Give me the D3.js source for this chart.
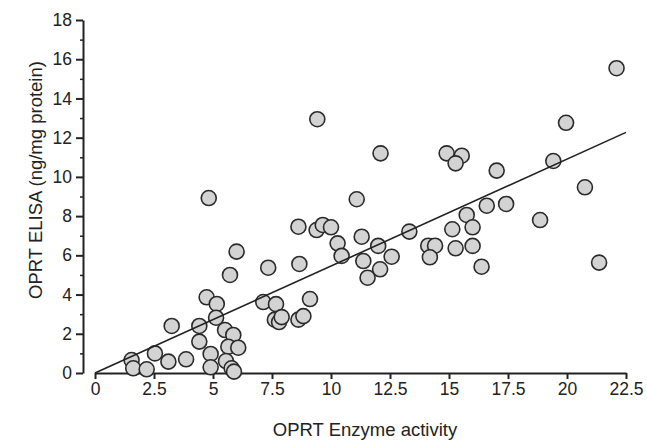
<!DOCTYPE html>
<html>
<head>
<meta charset="utf-8">
<script src="https://cdn.jsdelivr.net/npm/d3@7"></script>
<style>
  body { margin: 0; background: #fff; }
  svg { display: block; }
  .tick text { font-family: "Liberation Sans", Arial, sans-serif; font-size: 17.5px; fill: #222; }
  .axis-title { font-family: "Liberation Sans", Arial, sans-serif; font-size: 18.5px; fill: #222; }
</style>
</head>
<body>
<div id="chart"></div>
<script>
// OPRT enzyme activity (x) vs OPRT ELISA ng/mg protein (y)
const activity = [
    1.55, 1.62, 2.19, 2.54, 3.11, 3.86, 3.25, 4.42, 4.42, 4.90, 4.90, 4.73,
    5.16, 5.13, 5.51, 5.86, 5.65, 6.07, 5.55, 5.79, 5.89, 5.72, 6.00, 4.82,
    7.34, 7.13, 7.67, 7.62, 7.80, 7.91, 8.62, 8.83, 9.11, 8.66, 8.62, 9.39,
    9.65, 10.00, 10.28, 10.45, 9.42, 11.09, 11.30, 12.00, 12.57, 11.37, 12.08, 11.55,
    12.10, 13.32, 14.12, 14.41, 14.19, 14.90, 15.54, 15.28, 15.14, 15.28, 15.75, 16.00,
    16.00, 16.38, 16.60, 17.02, 17.42, 18.86, 19.42, 19.96, 20.76, 21.36, 22.10
];
const elisa = [
    0.66, 0.24, 0.19, 1.00, 0.58, 0.70, 2.40, 2.40, 1.60, 0.97, 0.29, 3.86,
    3.52, 2.82, 2.19, 1.94, 1.34, 1.29, 0.61, 0.24, 0.07, 5.00, 6.19, 8.92,
    5.37, 3.62, 3.51, 2.72, 2.60, 2.85, 2.72, 2.90, 3.77, 5.56, 7.46, 7.29,
    7.55, 7.43, 6.61, 5.97, 12.94, 8.86, 6.95, 6.48, 5.93, 5.71, 5.29, 4.86,
    11.20, 7.21, 6.49, 6.49, 5.90, 11.20, 11.08, 10.69, 7.33, 6.36, 8.06, 7.43,
    6.48, 5.42, 8.53, 10.32, 8.62, 7.80, 10.81, 12.76, 9.47, 5.63, 15.54
];
// regression line end points
const fitX = [0, 22.5];
const fitY = [0, 12.27];

const xTicks = [0, 2.5, 5, 7.5, 10, 12.5, 15, 17.5, 20, 22.5];
const xTickLabels = ['0', '2.5', '5', '7.5', '10', '12.5', '15', '17.5', '20', '22.5'];
const yTicks = [0, 2, 4, 6, 8, 10, 12, 14, 16, 18];
const yMinorTicks = [1, 3, 5, 7, 9, 11, 13, 15, 17];

const width = 647, height = 442;
const ink = '#222';

const svg = d3.select('#chart')
    .append('svg')
    .attr('width', width)
    .attr('height', height);

const xScale = d3.scaleLinear().domain([0, 22.5]).range([95, 626]);
const yScale = d3.scaleLinear().domain([0, 18]).range([373, 20]);
const yAxisX = 83;

// X axis (detached from the y axis)
const xAxis = d3.axisBottom(xScale)
    .tickValues(xTicks)
    .tickFormat((d, i) => xTickLabels[i])
    .tickSizeInner(6)
    .tickSizeOuter(0)
    .tickPadding(4);

const gx = svg.append('g')
    .attr('class', 'axis')
    .attr('transform', `translate(0,${yScale(0)})`)
    .call(xAxis);
gx.select('.domain').attr('stroke', ink).attr('stroke-width', 2);
gx.selectAll('.tick line').attr('stroke', ink).attr('stroke-width', 2);

// Y axis, major ticks with labels
const yAxis = d3.axisLeft(yScale)
    .tickValues(yTicks)
    .tickSizeInner(7)
    .tickSizeOuter(0)
    .tickPadding(4);

const gy = svg.append('g')
    .attr('class', 'axis')
    .attr('transform', `translate(${yAxisX},0)`)
    .call(yAxis);
gy.select('.domain').attr('stroke', ink).attr('stroke-width', 2);
gy.selectAll('.tick line').attr('stroke', ink).attr('stroke-width', 2);

// Y axis minor ticks
const yMinor = d3.axisLeft(yScale)
    .tickValues(yMinorTicks)
    .tickSize(3)
    .tickFormat('');
const gyMinor = svg.append('g')
    .attr('transform', `translate(${yAxisX},0)`)
    .call(yMinor);
gyMinor.select('.domain').remove();
gyMinor.selectAll('.tick line').attr('stroke', ink).attr('stroke-width', 1.5);

// Axis titles
svg.append('text')
    .attr('class', 'axis-title')
    .attr('x', 365)
    .attr('y', 436)
    .attr('text-anchor', 'middle')
    .text('OPRT Enzyme activity');

svg.append('text')
    .attr('class', 'axis-title')
    .attr('transform', 'rotate(-90)')
    .attr('x', -180)
    .attr('y', 42)
    .attr('text-anchor', 'middle')
    .text('OPRT ELISA (ng/mg protein)');

// Points
const points = activity.map((x, i) => ({ x: x, y: elisa[i] }));

svg.append('g')
    .selectAll('circle')
    .data(points)
    .join('circle')
    .attr('cx', d => xScale(d.x))
    .attr('cy', d => yScale(d.y))
    .attr('r', 7.5)
    .attr('fill', '#d3d3d3')
    .attr('stroke', '#2a2a2a')
    .attr('stroke-width', 1.6);

// Regression line
const fit = fitX.map((x, i) => ({ x: x, y: fitY[i] }));
svg.append('path')
    .datum(fit)
    .attr('d', d3.line().x(d => xScale(d.x)).y(d => yScale(d.y)))
    .attr('fill', 'none')
    .attr('stroke', ink)
    .attr('stroke-width', 1.6);
</script>
</body>
</html>
